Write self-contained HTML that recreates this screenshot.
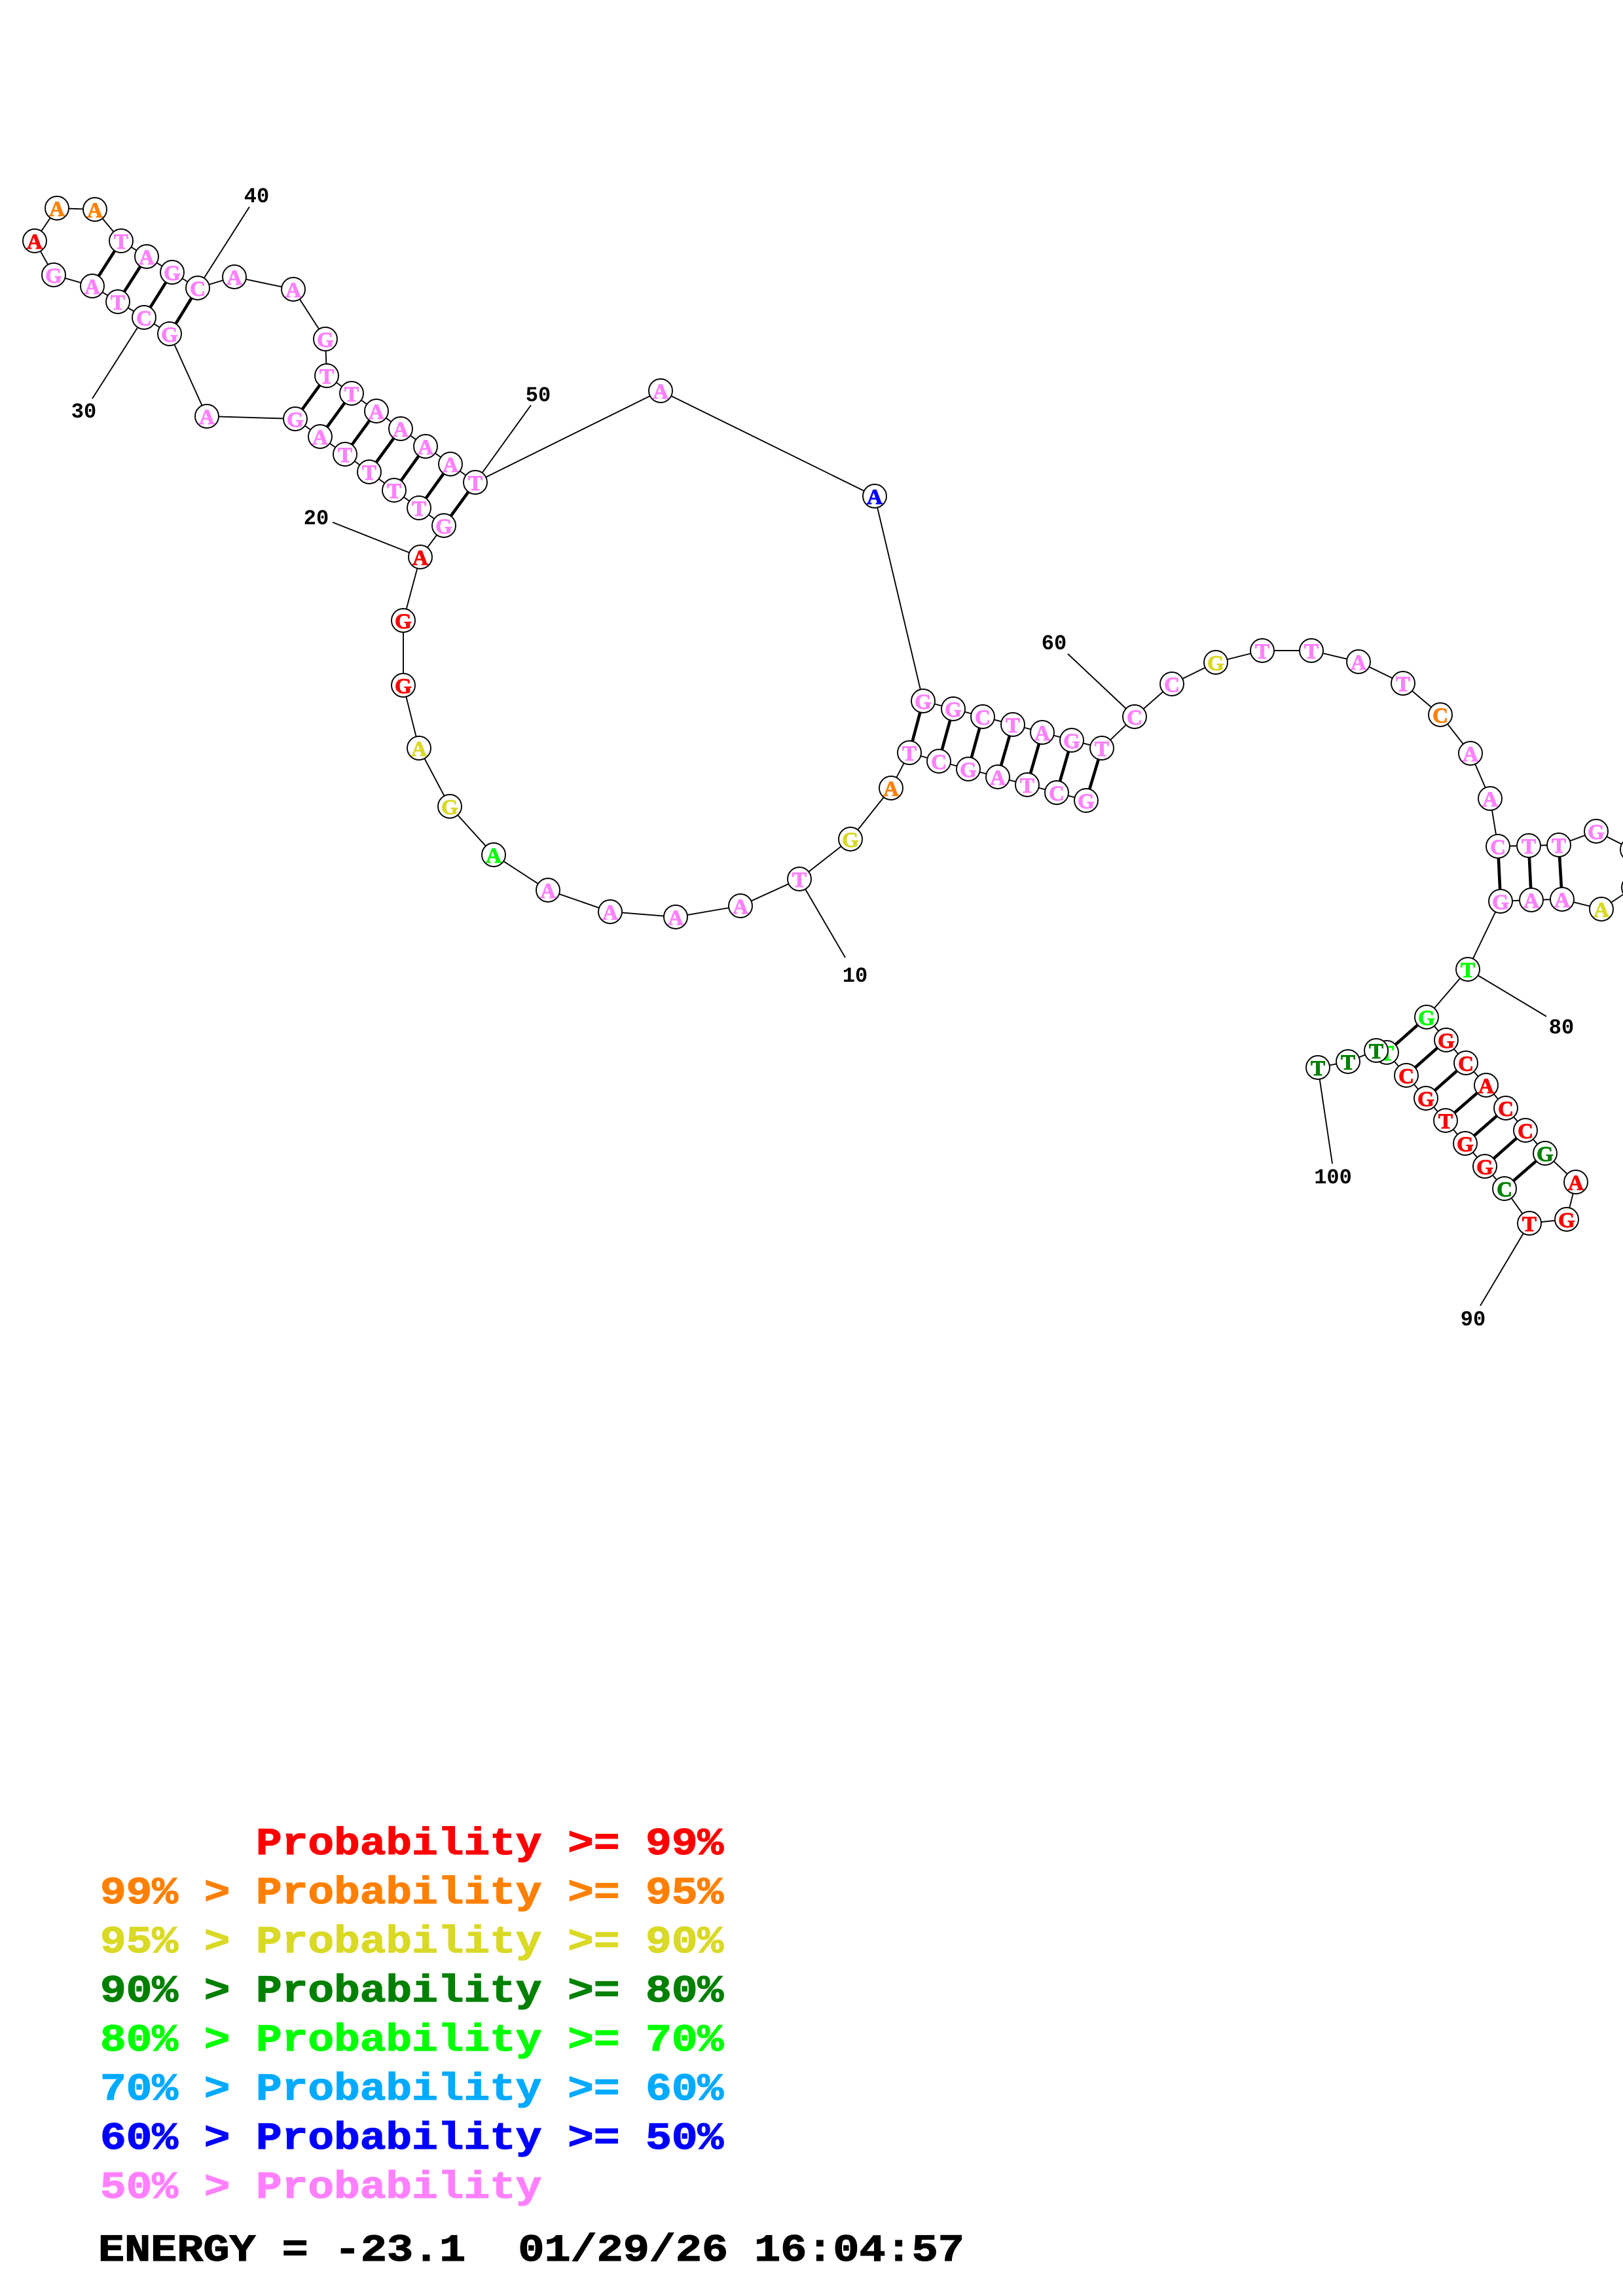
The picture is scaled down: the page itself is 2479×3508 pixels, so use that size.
<!DOCTYPE html>
<html><head><meta charset="utf-8"><title>Structure</title>
<style>
html,body{margin:0;padding:0;background:#fff}
svg{display:block}
.b{stroke:#000;stroke-width:1.9;fill:none}
.p{stroke:#000;stroke-width:4.6;fill:none}
circle{fill:#fff;stroke:#000;stroke-width:1.9}
.n text{font-family:"Liberation Serif",serif;font-weight:bold;font-size:33px;text-anchor:middle;stroke-width:1px}
.l{font-family:"Liberation Mono",monospace;font-weight:bold;font-size:32px;text-anchor:middle;fill:#000}
.t{font-family:"Liberation Mono",monospace;font-weight:bold;font-size:58px;white-space:pre;stroke-width:1.2px}
.R{fill:#f00;stroke:#f00}.O{fill:#ff8000;stroke:#ff8000}.Y{fill:#d9d926;stroke:#d9d926}.D{fill:#008000;stroke:#008000}.G{fill:#0f0;stroke:#0f0}.C{fill:#0af;stroke:#0af}.B{fill:#00f;stroke:#00f}.P{fill:#ff80ff;stroke:#ff80ff}.K{fill:#000;stroke:#000}
</style></head><body>
<svg xmlns="http://www.w3.org/2000/svg" width="2479" height="3508" viewBox="0 0 2479 3508">
<rect width="2479" height="3508" fill="#fff"/>
<polyline class="b" points="1659,1223 1614,1211 1569,1199 1524,1187 1479,1175 1434,1163 1389,1150 1361,1204 1299,1282 1221,1343 1131,1384 1032,1401 932,1393 837,1360 754,1306 687,1232 640,1143 616,1047 616,948 642,851 678,803 640,776 602,749 564,721 527,694 489,667 451,640 316,636 259,510 220,485 180,461 141,437 82,420 53,368 87,318 145,320 185,368 224,392 263,416 302,440 358,423 448,442 497,518 499,574 537,601 575,628 612,655 650,682 688,709 726,737 1009,597 1336,758 1410,1071 1456,1083 1501,1095 1547,1107 1592,1119 1637,1131 1683,1143 1733,1095 1790,1045 1857,1012 1928,994 2003,994 2075,1011 2143,1044 2200,1092 2246,1151 2276,1220 2288,1293 2335,1292 2381,1291 2438,1270 2493,1298 2495,1356 2446,1389 2386,1374 2339,1375 2292,1377 2242,1481 2179,1554 2209,1589 2239,1624 2270,1658 2300,1693 2330,1727 2360,1762 2407,1806 2393,1863 2336,1869 2298,1816 2268,1782 2238,1747 2208,1712 2178,1678 2148,1643 2118,1608 2102,1605 2059,1622 2013,1631"/>
<g class="p">
<path d="M1659,1223L1683,1143M1614,1211L1637,1131M1569,1199L1592,1119M1524,1187L1547,1107M1479,1175L1501,1095M1434,1163L1456,1083M1389,1150L1410,1071"/>
<path d="M678,803L726,737M640,776L688,709M602,749L650,682M564,721L612,655M527,694L575,628M489,667L537,601M451,640L499,574"/>
<path d="M259,510L302,440M220,485L263,416M180,461L224,392M141,437L185,368"/>
<path d="M2288,1293L2292,1377M2335,1292L2339,1375M2381,1291L2386,1374"/>
<path d="M2179,1554L2118,1608M2209,1589L2148,1643M2239,1624L2178,1678M2270,1658L2208,1712M2300,1693L2238,1747M2330,1727L2268,1782M2360,1762L2298,1816"/>
</g>
<g class="b">
<path d="M1221,1343L1291,1463M642,851L508,798M220,485L141,609M302,440L381,316M726,737L811,619M1733,1095L1631,999M2242,1481L2362,1553M2336,1869L2261,1995M2013,1631L2035,1778"/>
</g>
<g class="n">
<circle cx="1659" cy="1223" r="18"/><text x="1659" y="1235" class="P">G</text>
<circle cx="1614" cy="1211" r="18"/><text x="1614" y="1223" class="P">C</text>
<circle cx="1569" cy="1199" r="18"/><text x="1569" y="1211" class="P">T</text>
<circle cx="1524" cy="1187" r="18"/><text x="1524" y="1199" class="P">A</text>
<circle cx="1479" cy="1175" r="18"/><text x="1479" y="1187" class="P">G</text>
<circle cx="1434" cy="1163" r="18"/><text x="1434" y="1175" class="P">C</text>
<circle cx="1389" cy="1150" r="18"/><text x="1389" y="1162" class="P">T</text>
<circle cx="1361" cy="1204" r="18"/><text x="1361" y="1216" class="O">A</text>
<circle cx="1299" cy="1282" r="18"/><text x="1299" y="1294" class="Y">G</text>
<circle cx="1221" cy="1343" r="18"/><text x="1221" y="1355" class="P">T</text>
<circle cx="1131" cy="1384" r="18"/><text x="1131" y="1396" class="P">A</text>
<circle cx="1032" cy="1401" r="18"/><text x="1032" y="1413" class="P">A</text>
<circle cx="932" cy="1393" r="18"/><text x="932" y="1405" class="P">A</text>
<circle cx="837" cy="1360" r="18"/><text x="837" y="1372" class="P">A</text>
<circle cx="754" cy="1306" r="18"/><text x="754" y="1318" class="G">A</text>
<circle cx="687" cy="1232" r="18"/><text x="687" y="1244" class="Y">G</text>
<circle cx="640" cy="1143" r="18"/><text x="640" y="1155" class="Y">A</text>
<circle cx="616" cy="1047" r="18"/><text x="616" y="1059" class="R">G</text>
<circle cx="616" cy="948" r="18"/><text x="616" y="960" class="R">G</text>
<circle cx="642" cy="851" r="18"/><text x="642" y="863" class="R">A</text>
<circle cx="678" cy="803" r="18"/><text x="678" y="815" class="P">G</text>
<circle cx="640" cy="776" r="18"/><text x="640" y="788" class="P">T</text>
<circle cx="602" cy="749" r="18"/><text x="602" y="761" class="P">T</text>
<circle cx="564" cy="721" r="18"/><text x="564" y="733" class="P">T</text>
<circle cx="527" cy="694" r="18"/><text x="527" y="706" class="P">T</text>
<circle cx="489" cy="667" r="18"/><text x="489" y="679" class="P">A</text>
<circle cx="451" cy="640" r="18"/><text x="451" y="652" class="P">G</text>
<circle cx="316" cy="636" r="18"/><text x="316" y="648" class="P">A</text>
<circle cx="259" cy="510" r="18"/><text x="259" y="522" class="P">G</text>
<circle cx="220" cy="485" r="18"/><text x="220" y="497" class="P">C</text>
<circle cx="180" cy="461" r="18"/><text x="180" y="473" class="P">T</text>
<circle cx="141" cy="437" r="18"/><text x="141" y="449" class="P">A</text>
<circle cx="82" cy="420" r="18"/><text x="82" y="432" class="P">G</text>
<circle cx="53" cy="368" r="18"/><text x="53" y="380" class="R">A</text>
<circle cx="87" cy="318" r="18"/><text x="87" y="330" class="O">A</text>
<circle cx="145" cy="320" r="18"/><text x="145" y="332" class="O">A</text>
<circle cx="185" cy="368" r="18"/><text x="185" y="380" class="P">T</text>
<circle cx="224" cy="392" r="18"/><text x="224" y="404" class="P">A</text>
<circle cx="263" cy="416" r="18"/><text x="263" y="428" class="P">G</text>
<circle cx="302" cy="440" r="18"/><text x="302" y="452" class="P">C</text>
<circle cx="358" cy="423" r="18"/><text x="358" y="435" class="P">A</text>
<circle cx="448" cy="442" r="18"/><text x="448" y="454" class="P">A</text>
<circle cx="497" cy="518" r="18"/><text x="497" y="530" class="P">G</text>
<circle cx="499" cy="574" r="18"/><text x="499" y="586" class="P">T</text>
<circle cx="537" cy="601" r="18"/><text x="537" y="613" class="P">T</text>
<circle cx="575" cy="628" r="18"/><text x="575" y="640" class="P">A</text>
<circle cx="612" cy="655" r="18"/><text x="612" y="667" class="P">A</text>
<circle cx="650" cy="682" r="18"/><text x="650" y="694" class="P">A</text>
<circle cx="688" cy="709" r="18"/><text x="688" y="721" class="P">A</text>
<circle cx="726" cy="737" r="18"/><text x="726" y="749" class="P">T</text>
<circle cx="1009" cy="597" r="18"/><text x="1009" y="609" class="P">A</text>
<circle cx="1336" cy="758" r="18"/><text x="1336" y="770" class="B">A</text>
<circle cx="1410" cy="1071" r="18"/><text x="1410" y="1083" class="P">G</text>
<circle cx="1456" cy="1083" r="18"/><text x="1456" y="1095" class="P">G</text>
<circle cx="1501" cy="1095" r="18"/><text x="1501" y="1107" class="P">C</text>
<circle cx="1547" cy="1107" r="18"/><text x="1547" y="1119" class="P">T</text>
<circle cx="1592" cy="1119" r="18"/><text x="1592" y="1131" class="P">A</text>
<circle cx="1637" cy="1131" r="18"/><text x="1637" y="1143" class="P">G</text>
<circle cx="1683" cy="1143" r="18"/><text x="1683" y="1155" class="P">T</text>
<circle cx="1733" cy="1095" r="18"/><text x="1733" y="1107" class="P">C</text>
<circle cx="1790" cy="1045" r="18"/><text x="1790" y="1057" class="P">C</text>
<circle cx="1857" cy="1012" r="18"/><text x="1857" y="1024" class="Y">G</text>
<circle cx="1928" cy="994" r="18"/><text x="1928" y="1006" class="P">T</text>
<circle cx="2003" cy="994" r="18"/><text x="2003" y="1006" class="P">T</text>
<circle cx="2075" cy="1011" r="18"/><text x="2075" y="1023" class="P">A</text>
<circle cx="2143" cy="1044" r="18"/><text x="2143" y="1056" class="P">T</text>
<circle cx="2200" cy="1092" r="18"/><text x="2200" y="1104" class="O">C</text>
<circle cx="2246" cy="1151" r="18"/><text x="2246" y="1163" class="P">A</text>
<circle cx="2276" cy="1220" r="18"/><text x="2276" y="1232" class="P">A</text>
<circle cx="2288" cy="1293" r="18"/><text x="2288" y="1305" class="P">C</text>
<circle cx="2335" cy="1292" r="18"/><text x="2335" y="1304" class="P">T</text>
<circle cx="2381" cy="1291" r="18"/><text x="2381" y="1303" class="P">T</text>
<circle cx="2438" cy="1270" r="18"/><text x="2438" y="1282" class="P">G</text>
<circle cx="2493" cy="1298" r="18"/>
<circle cx="2495" cy="1356" r="18"/>
<circle cx="2446" cy="1389" r="18"/><text x="2446" y="1401" class="Y">A</text>
<circle cx="2386" cy="1374" r="18"/><text x="2386" y="1386" class="P">A</text>
<circle cx="2339" cy="1375" r="18"/><text x="2339" y="1387" class="P">A</text>
<circle cx="2292" cy="1377" r="18"/><text x="2292" y="1389" class="P">G</text>
<circle cx="2242" cy="1481" r="18"/><text x="2242" y="1493" class="G">T</text>
<circle cx="2179" cy="1554" r="18"/><text x="2179" y="1566" class="G">G</text>
<circle cx="2209" cy="1589" r="18"/><text x="2209" y="1601" class="R">G</text>
<circle cx="2239" cy="1624" r="18"/><text x="2239" y="1636" class="R">C</text>
<circle cx="2270" cy="1658" r="18"/><text x="2270" y="1670" class="R">A</text>
<circle cx="2300" cy="1693" r="18"/><text x="2300" y="1705" class="R">C</text>
<circle cx="2330" cy="1727" r="18"/><text x="2330" y="1739" class="R">C</text>
<circle cx="2360" cy="1762" r="18"/><text x="2360" y="1774" class="D">G</text>
<circle cx="2407" cy="1806" r="18"/><text x="2407" y="1818" class="R">A</text>
<circle cx="2393" cy="1863" r="18"/><text x="2393" y="1875" class="R">G</text>
<circle cx="2336" cy="1869" r="18"/><text x="2336" y="1881" class="R">T</text>
<circle cx="2298" cy="1816" r="18"/><text x="2298" y="1828" class="D">C</text>
<circle cx="2268" cy="1782" r="18"/><text x="2268" y="1794" class="R">G</text>
<circle cx="2238" cy="1747" r="18"/><text x="2238" y="1759" class="R">G</text>
<circle cx="2208" cy="1712" r="18"/><text x="2208" y="1724" class="R">T</text>
<circle cx="2178" cy="1678" r="18"/><text x="2178" y="1690" class="R">G</text>
<circle cx="2148" cy="1643" r="18"/><text x="2148" y="1655" class="R">C</text>
<circle cx="2118" cy="1608" r="18"/><text x="2118" y="1620" class="G">T</text>
<circle cx="2102" cy="1605" r="18"/><text x="2102" y="1617" class="D">T</text>
<circle cx="2059" cy="1622" r="18"/><text x="2059" y="1634" class="D">T</text>
<circle cx="2013" cy="1631" r="18"/><text x="2013" y="1643" class="D">T</text>
</g>
<text class="l" x="1306" y="1500">10</text>
<text class="l" x="483" y="801">20</text>
<text class="l" x="128" y="638">30</text>
<text class="l" x="392" y="309">40</text>
<text class="l" x="822" y="613">50</text>
<text class="l" x="1610" y="992">60</text>
<text class="l" x="2385" y="1579">80</text>
<text class="l" x="2250" y="2025">90</text>
<text class="l" x="2036" y="1808">100</text>
<g class="t">
<text transform="translate(153,2833) scale(1.14,1)" class="R" xml:space="preserve">      Probability &gt;= 99%</text>
<text transform="translate(153,2908) scale(1.14,1)" class="O" xml:space="preserve">99% &gt; Probability &gt;= 95%</text>
<text transform="translate(153,2983) scale(1.14,1)" class="Y" xml:space="preserve">95% &gt; Probability &gt;= 90%</text>
<text transform="translate(153,3058) scale(1.14,1)" class="D" xml:space="preserve">90% &gt; Probability &gt;= 80%</text>
<text transform="translate(153,3133) scale(1.14,1)" class="G" xml:space="preserve">80% &gt; Probability &gt;= 70%</text>
<text transform="translate(153,3208) scale(1.14,1)" class="C" xml:space="preserve">70% &gt; Probability &gt;= 60%</text>
<text transform="translate(153,3283) scale(1.14,1)" class="B" xml:space="preserve">60% &gt; Probability &gt;= 50%</text>
<text transform="translate(153,3358) scale(1.14,1)" class="P" xml:space="preserve">50% &gt; Probability</text>
<text transform="translate(150,3454) scale(1.152,1)" class="K" xml:space="preserve">ENERGY = -23.1  01/29/26 16:04:57</text>
</g>
</svg>
</body></html>
